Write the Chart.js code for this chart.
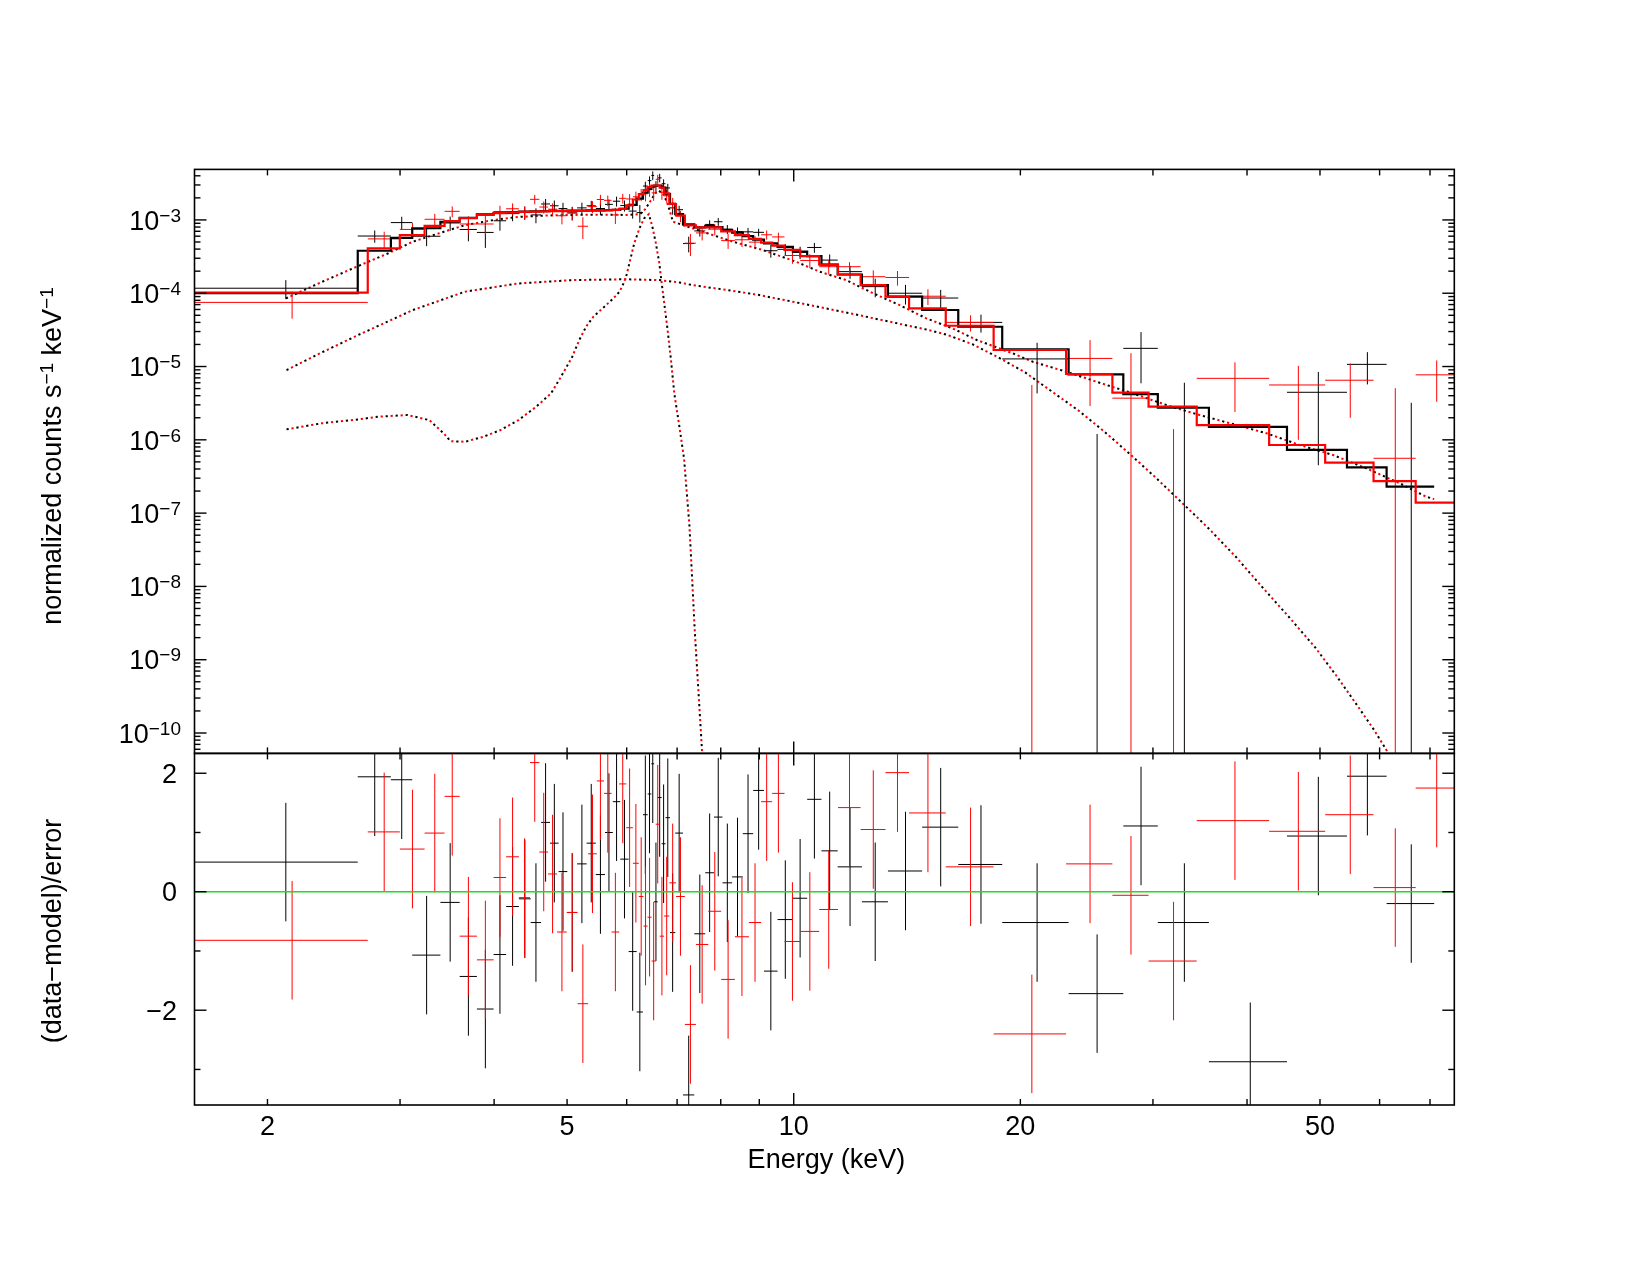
<!DOCTYPE html>
<html>
<head>
<meta charset="utf-8">
<title>Spectrum and residuals</title>
<script src="https://cdn.jsdelivr.net/npm/chart.js@4.4.1/dist/chart.umd.min.js"></script>
<style>
  html, body { margin: 0; padding: 0; background: #ffffff; }
  #page { position: relative; width: 1650px; height: 1275px; overflow: hidden; background: #ffffff; }
  #page canvas { position: absolute; left: 0; top: 0; }
</style>
</head>
<body>
<div id="page">
  <canvas id="spectrum" width="1650" height="1275"></canvas>
  <canvas id="residuals" width="1650" height="1275"></canvas>
</div>
<script>
// ---- axis ranges and ticks ----
const X_MIN = 1.6, X_MAX = 75.4;
const FLUX_MIN = 5.27e-11, FLUX_MAX = 4.89e-3;
const RES_MIN = -3.6, RES_MAX = 2.335;
const xTickValues = [2, 3, 4, 5, 6, 7, 8, 9, 10, 20, 30, 40, 50, 60, 70];
const xTickLabels = [2, 5, 10, 20, 50];
const fluxDecades = [-3, -4, -5, -6, -7, -8, -9, -10];
const residTicks = [-3, -2, -1, 0, 1, 2];
const residLabels = [2, 0, -2];

// ---- black spectrum (bin edges in keV) ----
const blackEdges = [1.595, 2.636, 2.917, 3.114, 3.394, 3.60, 3.795, 3.994, 4.15, 4.315, 4.474, 4.618, 4.746, 4.872, 5.004, 5.156, 5.308, 5.459, 5.615, 5.751, 5.883, 6.036, 6.186, 6.306, 6.398, 6.47, 6.526, 6.597, 6.677, 6.757, 6.85, 6.96, 7.128, 7.378, 7.629, 7.836, 8.042, 8.283, 8.558, 8.834, 9.131, 9.517, 9.975, 10.42, 10.885, 11.44, 12.32, 13.34, 14.81, 16.54, 18.92, 23.18, 27.4, 30.45, 35.6, 45.2, 54.3, 61.3, 70.9];
const blackFlux = [1.17e-4, 6.03e-4, 9.2e-4, 5.99e-4, 9.09e-4, 7.41e-4, 6.75e-4, 9.74e-4, 1.22e-3, 1.27e-3, 1.17e-3, 1.65e-3, 1.56e-3, 1.43e-3, 1.25e-3, 1.46e-3, 1.56e-3, 1.43e-3, 1.63e-3, 1.8e-3, 1.57e-3, 1.32e-3, 1.26e-3, 2.9e-3, 3.44e-3, 4.04e-3, 2.86e-3, 3.75e-3, 3.12e-3, 2.73e-3, 1.46e-3, 1.38e-3, 4.76e-4, 7.08e-4, 8.68e-4, 9.45e-4, 7.46e-4, 6.94e-4, 6.88e-4, 6.77e-4, 3.8e-4, 3.97e-4, 3.62e-4, 4.21e-4, 2.83e-4, 1.97e-4, 1.23e-4, 1.0e-4, 8.6e-5, 4.0e-5, 1.27e-5, -7.7e-6, 1.77e-5, -8e-7, -1.4e-5, 4.45e-6, 1.07e-5, -5e-7];
const blackErr = [3.4e-5, 1.15e-4, 1.85e-4, 1.6e-4, 2.0e-4, 2.3e-4, 2.6e-4, 2.6e-4, 2.6e-4, 2.6e-4, 2.7e-4, 2.8e-4, 2.8e-4, 2.8e-4, 2.6e-4, 2.6e-4, 2.6e-4, 2.6e-4, 2.7e-4, 2.8e-4, 2.7e-4, 2.8e-4, 3.4e-4, 4.2e-4, 4.8e-4, 5.5e-4, 5.2e-4, 5.0e-4, 4.6e-4, 3.8e-4, 2.8e-4, 1.8e-4, 1.15e-4, 1.15e-4, 1.2e-4, 1.15e-4, 1.05e-4, 9.5e-5, 9.0e-5, 8.0e-5, 7.5e-5, 7.0e-5, 7.0e-5, 6.5e-5, 5.5e-5, 4.0e-5, 3.5e-5, 3.0e-5, 2.5e-5, 1.1e-5, 8.4e-6, 8.9e-6, 1.18e-5, 6.8e-6, 5.4e-6, 4.0e-6, 5.0e-6, 3.7e-6];
const blackModel = [1.0e-4, 3.8e-4, 5.7e-4, 7.7e-4, 9.45e-4, 1.07e-3, 1.19e-3, 1.25e-3, 1.28e-3, 1.30e-3, 1.31e-3, 1.32e-3, 1.33e-3, 1.33e-3, 1.34e-3, 1.34e-3, 1.35e-3, 1.35e-3, 1.36e-3, 1.37e-3, 1.42e-3, 1.6e-3, 1.95e-3, 2.35e-3, 2.65e-3, 2.85e-3, 2.95e-3, 2.95e-3, 2.75e-3, 2.25e-3, 1.65e-3, 1.2e-3, 8.7e-4, 7.9e-4, 8.3e-4, 8.0e-4, 7.3e-4, 6.7e-4, 6.0e-4, 5.4e-4, 4.8e-4, 4.3e-4, 3.7e-4, 3.2e-4, 2.45e-4, 1.8e-4, 1.29e-4, 9.0e-5, 5.9e-5, 3.49e-5, 1.72e-5, 7.8e-6, 4.2e-6, 2.74e-6, 1.5e-6, 7.3e-7, 4.2e-7, 2.3e-7];
const blackResid = [0.50, 1.94, 1.89, -1.07, -0.18, -1.43, -1.98, -1.06, -0.25, -0.12, -0.52, 1.17, 0.82, 0.34, -0.35, 0.47, 0.82, 0.29, 1.00, 1.52, 0.55, -1.01, -2.03, 1.30, 1.65, 2.16, -0.17, 1.59, 0.81, 1.25, -0.69, 0.99, -3.43, -0.71, 0.32, 1.26, 0.15, 0.25, 0.98, 1.71, -1.34, -0.47, -0.11, 1.56, 0.69, 0.42, -0.17, 0.35, 1.09, 0.46, -0.52, -1.72, 1.11, -0.52, -2.87, 0.94, 1.95, -0.20];

// ---- red spectrum ----
const redEdges = [1.595, 2.718, 2.998, 3.234, 3.438, 3.60, 3.795, 3.994, 4.15, 4.315, 4.464, 4.594, 4.717, 4.849, 4.995, 5.163, 5.332, 5.476, 5.598, 5.728, 5.864, 5.992, 6.115, 6.227, 6.317, 6.395, 6.475, 6.557, 6.638, 6.727, 6.835, 6.977, 7.168, 7.415, 7.70, 8.01, 8.353, 8.718, 9.05, 9.362, 9.722, 10.2, 10.81, 11.45, 12.27, 13.24, 14.23, 15.92, 18.43, 23.0, 26.5, 29.6, 34.3, 42.8, 50.8, 58.9, 67.0, 75.9];
const redFlux = [7.5e-5, 5.51e-4, 7.42e-4, 1.02e-3, 1.31e-3, 8.8e-4, 8.8e-4, 1.30e-3, 1.42e-3, 1.26e-3, 1.91e-3, 1.50e-3, 1.40e-3, 1.14e-3, 1.24e-3, 8.2e-4, 1.52e-3, 1.9e-3, 1.85e-3, 1.17e-3, 1.97e-3, 1.93e-3, 2.07e-3, 2.22e-3, 2.27e-3, 2.58e-3, 2.34e-3, 3.58e-3, 2.38e-3, 2.13e-3, 1.70e-3, 1.13e-3, 4.82e-4, 6.65e-4, 7.47e-4, 5.22e-4, 5.36e-4, 4.98e-4, 6.27e-4, 5.86e-4, 3.27e-4, 2.8e-4, 2.3e-4, 2.3e-4, 1.68e-4, 1.64e-4, 9.1e-5, 4.0e-5, -2.4e-6, 1.29e-5, 3.7e-6, -6.8e-6, 6.9e-6, 5.6e-6, 6.5e-6, 5.6e-7, 7.7e-6];
const redErr = [3.0e-5, 1.4e-4, 1.7e-4, 1.9e-4, 2.2e-4, 2.4e-4, 2.5e-4, 2.6e-4, 2.6e-4, 2.6e-4, 2.8e-4, 2.8e-4, 2.8e-4, 2.7e-4, 2.6e-4, 2.7e-4, 2.8e-4, 3.0e-4, 3.0e-4, 2.9e-4, 3.0e-4, 3.2e-4, 3.6e-4, 4.2e-4, 4.8e-4, 5.2e-4, 5.2e-4, 5.5e-4, 5.0e-4, 4.2e-4, 3.0e-4, 2.0e-4, 1.6e-4, 1.4e-4, 1.3e-4, 1.2e-4, 1.1e-4, 1.0e-4, 9.0e-5, 8.5e-5, 7.5e-5, 6.0e-5, 5.0e-5, 3.5e-5, 3.7e-5, 3.7e-5, 2.2e-5, 1.0e-5, 8.0e-6, 1.0e-5, 1.15e-5, 8.2e-6, 4.5e-6, 4.6e-6, 4.5e-6, 4.5e-6, 4.4e-6];
const redModel = [1.02e-4, 4.1e-4, 6.2e-4, 8.3e-4, 9.6e-4, 1.06e-3, 1.17e-3, 1.24e-3, 1.27e-3, 1.29e-3, 1.30e-3, 1.31e-3, 1.32e-3, 1.32e-3, 1.33e-3, 1.33e-3, 1.34e-3, 1.34e-3, 1.35e-3, 1.37e-3, 1.42e-3, 1.58e-3, 1.9e-3, 2.25e-3, 2.55e-3, 2.8e-3, 2.95e-3, 2.95e-3, 2.75e-3, 2.3e-3, 1.65e-3, 1.15e-3, 8.4e-4, 7.9e-4, 7.9e-4, 7.0e-4, 6.2e-4, 5.5e-4, 4.9e-4, 4.45e-4, 3.9e-4, 3.2e-4, 2.45e-4, 1.8e-4, 1.29e-4, 9.0e-5, 6.2e-5, 3.6e-5, 1.68e-5, 7.9e-6, 4.4e-6, 2.83e-6, 1.59e-6, 8.5e-7, 4.9e-7, 2.74e-7, 1.39e-7];
const redResid = [-0.82, 1.01, 0.72, 0.99, 1.61, -0.75, -1.15, 0.24, 0.59, -0.10, 2.18, 0.67, 0.30, -0.68, -0.35, -1.89, 0.64, 1.87, 1.66, -0.68, 1.82, 1.08, 0.48, -0.08, -0.58, -0.43, -1.17, 1.14, -0.75, -0.41, 0.15, -0.08, -2.24, -0.89, -0.33, -1.48, -0.76, -0.52, 1.52, 1.66, -0.84, -0.67, -0.30, 1.42, 1.05, 2.01, 1.33, 0.42, -2.40, 0.47, -0.06, -1.17, 1.20, 1.02, 1.30, 0.07, 1.75];

// ---- model components (dotted) ----
const contEnergy = [2.116, 2.36, 2.64, 2.88, 3.12, 3.43, 3.66, 4.0, 4.31, 4.7, 5.08, 5.5, 6.0, 6.25, 6.35, 6.45, 6.55, 6.62, 6.7, 6.78, 6.85, 6.91, 7.1, 7.57, 8.3, 9.1, 10.07, 10.82, 11.74, 12.74, 13.82, 15.0, 16.27, 17.5, 19.55, 20.78, 23.01, 25.49, 28.22, 31.26, 34.6, 38.32, 42.44, 46.99, 52.04, 57.63, 63.82, 69.24, 70.9];
const contFlux = [8.5e-5, 1.42e-4, 2.35e-4, 3.43e-4, 5.05e-4, 6.9e-4, 8.5e-4, 1.0e-3, 1.1e-3, 1.15e-3, 1.17e-3, 1.18e-3, 1.17e-3, 1.2e-3, 1.4e-3, 1.8e-3, 2.3e-3, 2.5e-3, 2.3e-3, 1.8e-3, 1.3e-3, 9.5e-4, 8.6e-4, 6.9e-4, 5.05e-4, 3.88e-4, 2.69e-4, 1.97e-4, 1.51e-4, 1.0e-4, 6.9e-5, 4.54e-5, 3.3e-5, 2.3e-5, 1.51e-5, 1.16e-5, 8.5e-6, 6.0e-6, 4.3e-6, 2.98e-6, 2.18e-6, 1.64e-6, 1.23e-6, 8.5e-7, 6.2e-7, 4.08e-7, 2.55e-7, 1.67e-7, 1.55e-7];
const humpEnergy = [2.12, 2.36, 2.64, 3.12, 3.66, 4.31, 5.08, 5.98, 6.63, 7.05, 7.34, 8.13, 9.0, 9.97, 11.04, 12.23, 13.54, 15.0, 15.96, 17.3, 18.75, 20.3, 22.03, 23.9, 25.87, 28.0, 30.39, 33.0, 35.69, 38.7, 41.94, 45.5, 49.27, 52.6, 56.03, 59.0, 61.7, 63.0];
const humpFlux = [8.95e-6, 1.55e-5, 2.69e-5, 5.9e-5, 1.05e-4, 1.36e-4, 1.51e-4, 1.55e-4, 1.51e-4, 1.4e-4, 1.29e-4, 1.11e-4, 9.45e-5, 7.66e-5, 6.2e-5, 5.0e-5, 4.0e-5, 3.2e-5, 2.72e-5, 2.0e-5, 1.31e-5, 8.3e-6, 4.55e-6, 2.5e-6, 1.29e-6, 6.3e-7, 2.92e-7, 1.3e-7, 5.97e-8, 2.5e-8, 9.7e-9, 3.8e-9, 1.47e-9, 6e-10, 2.38e-10, 1.1e-10, 5.2e-11, 3e-11];
const lineEnergy = [2.12, 2.36, 2.64, 2.81, 3.07, 3.28, 3.43, 3.50, 3.66, 3.87, 4.08, 4.31, 4.55, 4.76, 4.91, 5.08, 5.19, 5.30, 5.42, 5.60, 5.76, 5.87, 5.95, 6.0, 6.05, 6.14, 6.24, 6.33, 6.42, 6.49, 6.56, 6.63, 6.67, 6.73, 6.80, 6.87, 6.94, 7.05, 7.15, 7.27, 7.39, 7.53, 7.6];
const lineFlux = [1.39e-6, 1.68e-6, 1.9e-6, 2.07e-6, 2.18e-6, 1.86e-6, 1.22e-6, 9.6e-7, 9.4e-7, 1.1e-6, 1.36e-6, 1.86e-6, 2.83e-6, 4.3e-6, 7.3e-6, 1.36e-5, 2.3e-5, 3.5e-5, 4.8e-5, 6.5e-5, 8.5e-5, 1.05e-4, 1.4e-4, 1.8e-4, 2.56e-4, 4.8e-4, 7.7e-4, 1.05e-3, 1.2e-3, 8.1e-4, 4.8e-4, 2.56e-4, 1.51e-4, 7.3e-5, 3.15e-5, 1.23e-5, 4.3e-6, 1.5e-6, 5.6e-7, 6.6e-8, 2.4e-9, 1e-10, 2e-11];

// ---- page layout (pixels) ----
const BOX = { left: 194.5, right: 1454.3, top: 169.4, mid: 753.4, bottom: 1105 };
const W = 1650, H = 1275;
const FONT = '"Liberation Sans", Arial, Helvetica, sans-serif';
const LABEL_PX = 27, SUP_PX = 19;
const MAJOR = 12, MINOR = 6;
const RED = '#ff0000', BLACK = '#000000', GREEN = '#1fdc1f';

function stepLine(edges, model) {
  const pts = [];
  model.forEach((m, i) => pts.push({ x: edges[i], y: m }, { x: edges[i + 1], y: m }));
  return pts;
}

// crosses: horizontal bar over the bin, vertical bar +-err; gaps via null
function crosses(edges, values, errAt, floor) {
  const pts = [];
  values.forEach((v, i) => {
    const lo = edges[i], hi = edges[i + 1], mid = (lo + hi) / 2;
    const e = errAt(i);
    const top = v + e;
    let low = v - e;
    if (floor !== null && low <= 0) low = floor;
    if (floor === null || v > 0) pts.push({ x: lo, y: v }, { x: hi, y: v }, { x: mid, y: null });
    if (floor === null || top > 0) pts.push({ x: mid, y: low }, { x: mid, y: top }, { x: mid, y: null });
  });
  return pts;
}

function curve(xs, ys) {
  return xs.map((x, i) => ({ x: x, y: ys[i] }));
}

function lineSet(data, color, width, dash, offset) {
  return {
    data: data, borderColor: color, borderWidth: width, pointRadius: 0,
    fill: false, tension: 0, spanGaps: false,
    borderDash: dash || [], borderDashOffset: offset || 0
  };
}

function seg(ctx, x1, y1, x2, y2) {
  ctx.beginPath(); ctx.moveTo(x1, y1); ctx.lineTo(x2, y2); ctx.stroke();
}

// text made of normal and superscript pieces, baseline y
function richText(ctx, parts, x, y, align) {
  let total = 0;
  const widths = parts.map(p => {
    ctx.font = (p[1] ? SUP_PX : LABEL_PX) + 'px ' + FONT;
    const w = ctx.measureText(p[0]).width;
    total += w;
    return w;
  });
  let cx = align === 'right' ? x - total : align === 'center' ? x - total / 2 : x;
  ctx.textAlign = 'left';
  ctx.textBaseline = 'alphabetic';
  parts.forEach((p, i) => {
    ctx.font = (p[1] ? SUP_PX : LABEL_PX) + 'px ' + FONT;
    ctx.fillText(p[0], cx, p[1] ? y - 8 : y);
    cx += widths[i];
  });
}

const spectrumAxes = {
  id: 'spectrumAxes',
  afterDraw(chart) {
    const ctx = chart.ctx, a = chart.chartArea, x = chart.scales.x, y = chart.scales.y;
    ctx.save();
    ctx.strokeStyle = BLACK;
    ctx.lineWidth = 1.6;
    ctx.strokeRect(a.left, a.top, a.right - a.left, a.bottom - a.top);
    ctx.lineWidth = 1.4;
    xTickValues.forEach(v => {
      const px = x.getPixelForValue(v);
      const len = v === 10 ? MAJOR : MINOR;
      seg(ctx, px, a.top, px, a.top + len);
      seg(ctx, px, a.bottom, px, a.bottom - len);
    });
    for (let d = -11; d <= -3; d++) {
      for (let m = 1; m <= 9; m++) {
        const v = m * Math.pow(10, d);
        if (v < FLUX_MIN || v > FLUX_MAX) continue;
        const py = y.getPixelForValue(v);
        const len = m === 1 ? MAJOR : MINOR;
        seg(ctx, a.left, py, a.left + len, py);
        seg(ctx, a.right, py, a.right - len, py);
      }
    }
    ctx.fillStyle = BLACK;
    fluxDecades.forEach(d => {
      const py = y.getPixelForValue(Math.pow(10, d));
      richText(ctx, [['10', false], ['\u2212' + (-d), true]], 181, py + 9.7, 'right');
    });
    ctx.translate(53, 456);
    ctx.rotate(-Math.PI / 2);
    richText(ctx, [['normalized counts s', false], ['\u22121', true], [' keV', false], ['\u22121', true]], 0, 8, 'center');
    ctx.restore();
  }
};

const residualAxes = {
  id: 'residualAxes',
  afterDraw(chart) {
    const ctx = chart.ctx, a = chart.chartArea, x = chart.scales.x, y = chart.scales.y;
    ctx.save();
    ctx.strokeStyle = BLACK;
    ctx.lineWidth = 1.6;
    ctx.strokeRect(a.left, a.top, a.right - a.left, a.bottom - a.top);
    ctx.lineWidth = 1.4;
    xTickValues.forEach(v => {
      const px = x.getPixelForValue(v);
      const len = v === 10 ? MAJOR : MINOR;
      seg(ctx, px, a.top, px, a.top + len);
      seg(ctx, px, a.bottom, px, a.bottom - len);
    });
    residTicks.forEach(v => {
      const py = y.getPixelForValue(v);
      const len = v % 2 === 0 ? MAJOR : MINOR;
      seg(ctx, a.left, py, a.left + len, py);
      seg(ctx, a.right, py, a.right - len, py);
    });
    ctx.fillStyle = BLACK;
    ctx.font = LABEL_PX + 'px ' + FONT;
    ctx.textBaseline = 'alphabetic';
    ctx.textAlign = 'right';
    residLabels.forEach(v => {
      const py = y.getPixelForValue(v);
      ctx.fillText(v < 0 ? '\u2212' + (-v) : String(v), 177, py + 9.7);
    });
    ctx.textAlign = 'center';
    xTickLabels.forEach(v => {
      ctx.fillText(String(v), x.getPixelForValue(v), 1135);
    });
    ctx.fillText('Energy (keV)', (a.left + a.right) / 2 + 2, 1168);
    ctx.translate(53, 931);
    ctx.rotate(-Math.PI / 2);
    ctx.fillText('(data\u2212model)/error', 0, 8);
    ctx.restore();
  }
};

function baseOptions(padTop, padBottom, yScale) {
  return {
    responsive: false,
    animation: false,
    devicePixelRatio: 1,
    events: [],
    layout: { padding: { left: BOX.left, right: W - BOX.right, top: padTop, bottom: padBottom } },
    plugins: { legend: { display: false }, tooltip: { enabled: false } },
    scales: {
      x: { type: 'logarithmic', min: X_MIN, max: X_MAX, display: false },
      y: yScale
    }
  };
}

const FLOOR = 1e-13;
const DOT = [2.2, 7.8];

if (window.Chart) {
  new Chart(document.getElementById('spectrum'), {
    type: 'line',
    data: {
      datasets: [
        lineSet(stepLine(redEdges, redModel), RED, 2.2),
        lineSet(stepLine(blackEdges, blackModel), BLACK, 2.2),
        lineSet(crosses(redEdges, redFlux, i => redErr[i], FLOOR), RED, 1),
        lineSet(crosses(blackEdges, blackFlux, i => blackErr[i], FLOOR), BLACK, 1),
        lineSet(curve(contEnergy, contFlux), RED, 2, DOT, 5),
        lineSet(curve(contEnergy, contFlux), BLACK, 2, DOT, 0),
        lineSet(curve(humpEnergy, humpFlux), RED, 2, DOT, 5),
        lineSet(curve(humpEnergy, humpFlux), BLACK, 2, DOT, 0),
        lineSet(curve(lineEnergy, lineFlux), RED, 2, DOT, 5),
        lineSet(curve(lineEnergy, lineFlux), BLACK, 2, DOT, 0)
      ]
    },
    options: baseOptions(BOX.top, H - BOX.mid, { type: 'logarithmic', min: FLUX_MIN, max: FLUX_MAX, display: false }),
    plugins: [spectrumAxes]
  });

  new Chart(document.getElementById('residuals'), {
    type: 'line',
    data: {
      datasets: [
        lineSet([{ x: X_MIN, y: 0 }, { x: X_MAX, y: 0 }], GREEN, 1.6),
        lineSet(crosses(redEdges, redResid, () => 1, null), RED, 1),
        lineSet(crosses(blackEdges, blackResid, () => 1, null), BLACK, 1)
      ]
    },
    options: baseOptions(BOX.mid, H - BOX.bottom, { type: 'linear', min: RES_MIN, max: RES_MAX, display: false }),
    plugins: [residualAxes]
  });
}
</script>
</body>
</html>
